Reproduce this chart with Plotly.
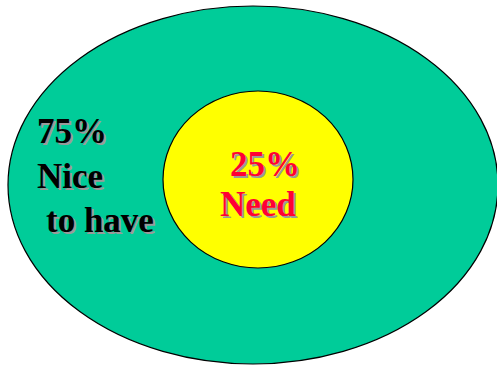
import plotly.graph_objects as go

# Share of wants split into "nice to have" and "need"
shares = [75, 25]
labels = [["Nice", "to have"], ["Need"]]

W, H = 497, 365
GREEN = "#00CC99"
YELLOW = "#FFFF00"
RED = "#FF0033"
SHADOW = "#9A9A9A"
FONT = "Liberation Serif, Times New Roman, serif"

fig = go.Figure()

# outer ellipse: the whole, inner circle: the needed part
fig.add_shape(type="circle", xref="x", yref="y", x0=8, x1=498, y0=6, y1=364,
              fillcolor=GREEN, line=dict(color="black", width=1.2), layer="below")
fig.add_shape(type="circle", xref="x", yref="y", x0=163, x1=353, y0=91, y1=268,
              fillcolor=YELLOW, line=dict(color="black", width=1.2), layer="below")


def label(text, x, y, color, size=35, anchor="left"):
    # bold serif text with a soft grey drop shadow
    fig.add_annotation(x=x, y=y, text=f"<b>{text}</b>", showarrow=False,
                       xref="x", yref="y", xanchor=anchor, yanchor="middle",
                       font=dict(family=FONT, size=size, color=color,
                                 shadow=f"2px 2px 0px {SHADOW}"))


outer_lines = [f"{shares[0]}%"] + labels[0]
for txt, (x, y) in zip(outer_lines, [(35, 131), (35, 176), (44, 220)]):
    label(txt, x, y, "black")

inner_lines = [f"{shares[1]}%"] + labels[1]
for txt, (x, y) in zip(inner_lines, [(228, 164), (218, 204)]):
    label(txt, x, y, RED)

fig.update_layout(
    width=W, height=H, margin=dict(l=0, r=0, t=0, b=0),
    paper_bgcolor="white", plot_bgcolor="white", showlegend=False,
    xaxis=dict(range=[0, W], visible=False, fixedrange=True),
    yaxis=dict(range=[H, 0], visible=False, fixedrange=True),
)

fig.write_html("out.html")
